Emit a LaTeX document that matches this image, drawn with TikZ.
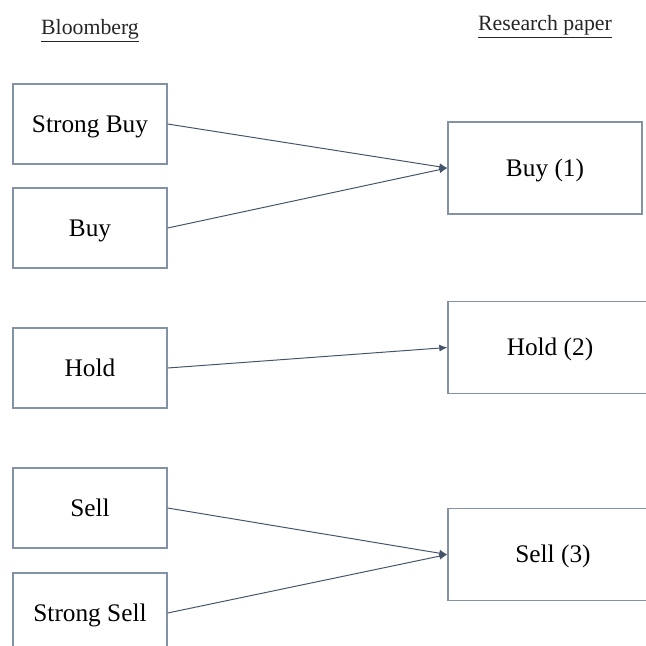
\documentclass[tikz,border=0pt]{standalone}
\usepackage{fontspec}
\setmainfont{Liberation Serif}
\usetikzlibrary{positioning,arrows.meta}
\definecolor{slateline}{RGB}{68,84,106}
\definecolor{boxline}{RGB}{132,146,168}

\begin{document}
\begin{tikzpicture}[x=0.025cm,y=-0.025cm,
    rating/.style={draw=boxline,line width=0.9pt,rectangle,minimum width=3.85cm,minimum height=2cm,
        text height=12pt,text depth=0pt,font=\fontsize{18}{22}\selectfont},
    target/.style={rating,minimum height=2.3cm},
    heading/.style={font=\fontsize{15.5}{19}\selectfont,text=black!85},
    link/.style={-{Latex[length=5.7pt,width=5pt]},draw=slateline,line width=0.7pt}]
    \useasboundingbox (0,0) rectangle (646,646);
    \clip (0,0) rectangle (646,646);

    % Column headings
    \node[heading] (bbg) at (90,31) {\underline{Bloomberg}};
    \node[heading] (paper) at (545,27) {\underline{Research paper}};

    % Bloomberg ratings
    \node[rating] (sbuy) at (90,124) {Strong Buy};
    \node[rating] (buy) at (90,228) {Buy};
    \node[rating] (hold) at (90,368) {Hold};
    \node[rating] (sell) at (90,508) {Sell};
    \node[rating] (ssell) at (90,613) {Strong Sell};

    % Research paper classes
    \node[target,minimum width=4.85cm] (buy1) at (545,168) {Buy (1)};
    \node[target,minimum width=5.1cm] (hold2) at (550,347.5) {Hold (2)};
    \node[target,minimum width=5.25cm] (sell3) at (553,554.5) {Sell (3)};

    % Mapping
    \draw[link] (sbuy.east) -- (buy1.west);
    \draw[link] (buy.east) -- (buy1.west);
    \draw[link] (hold.east) -- (hold2.west);
    \draw[link] (sell.east) -- (sell3.west);
    \draw[link] (ssell.east) -- (sell3.west);
\end{tikzpicture}
\end{document}
